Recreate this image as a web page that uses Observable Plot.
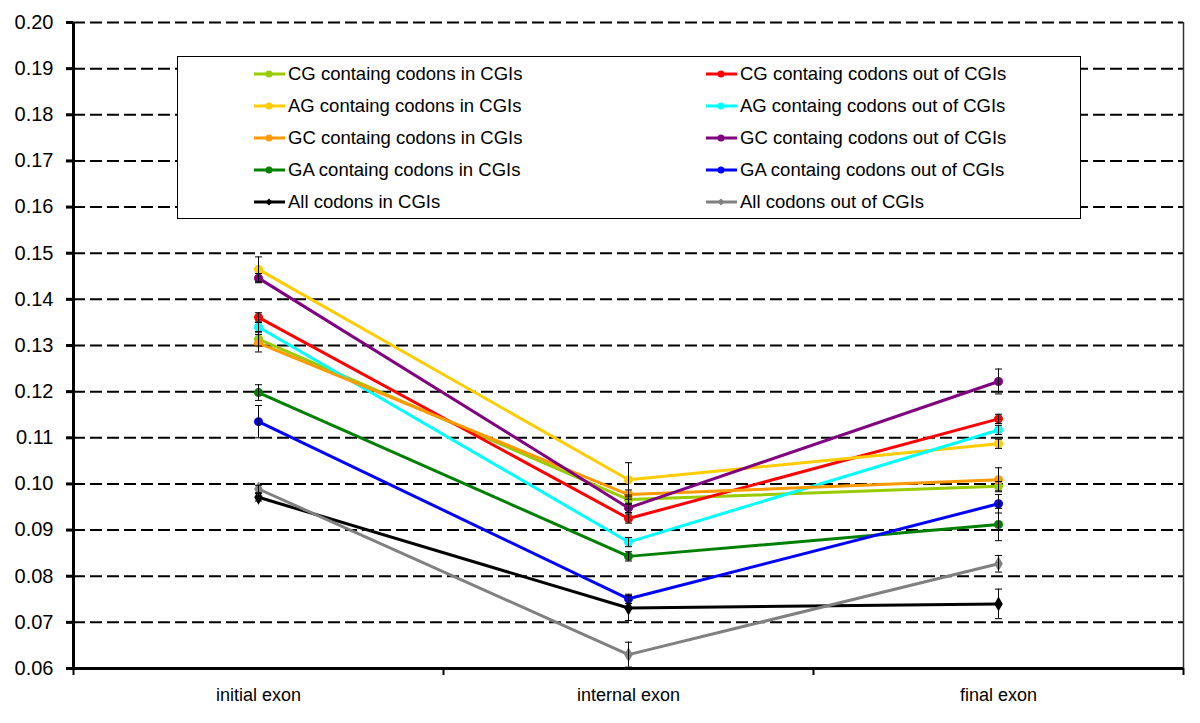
<!DOCTYPE html>
<html>
<head>
<meta charset="utf-8">
<script src="https://cdn.jsdelivr.net/npm/d3@7"></script>
<script src="https://cdn.jsdelivr.net/npm/@observablehq/plot@0.6"></script>
<style>
  html, body { margin: 0; padding: 0; background: #fff; }
  #wrap { position: relative; width: 1200px; height: 723px; font-family: "Liberation Sans", Arial, sans-serif; }
  #legend { position: absolute; left: 177px; top: 56px; width: 904px; height: 163px; border: 1px solid #000; background: #fff; box-sizing: border-box; }
  .item { position: absolute; height: 24px; line-height: 24px; font-size: 18.5px; color: #000; white-space: nowrap; display: flex; align-items: center; }
  .item svg { margin-right: 3px; }
</style>
</head>
<body>
<div id="wrap"><div id="chart"></div><div id="legend"></div></div>
<script>
const categories = ["initial exon", "internal exon", "final exon"];
const yTicks = [0.06, 0.07, 0.08, 0.09, 0.10, 0.11, 0.12, 0.13, 0.14, 0.15, 0.16, 0.17, 0.18, 0.19, 0.20];

const seriesNames = [
  "CG containg codons in CGIs", "CG containg codons out of CGIs",
  "AG containg codons in CGIs", "AG containg codons out of CGIs",
  "GC containg codons in CGIs", "GC containg codons out of CGIs",
  "GA containg codons in CGIs", "GA containg codons out of CGIs",
  "All codons in CGIs", "All codons out of CGIs"
];
const seriesColors = ["#99cc00", "#ff0000", "#ffcc00", "#00ffff", "#ff9900", "#800080", "#008000", "#0000ff", "#000000", "#808080"];
const seriesSymbols = ["circle", "circle", "circle", "circle", "circle", "circle", "circle", "circle", "diamond", "diamond"];

const cgIn  = [0.1314, 0.0966, 0.0995];
const cgOut = [0.1361, 0.0925, 0.1141];
const agIn  = [0.1465, 0.1009, 0.1087];
const agOut = [0.1340, 0.0874, 0.1117];
const gcIn  = [0.1305, 0.0977, 0.1009];
const gcOut = [0.1446, 0.0948, 0.1222];
const gaIn  = [0.1198, 0.0843, 0.0912];
const gaOut = [0.1135, 0.0751, 0.0957];
const allIn  = [0.0971, 0.0731, 0.0740];
const allOut = [0.0989, 0.0630, 0.0827];

const cgInErr  = [0.0015, 0.0010, 0.0010];
const cgOutErr = [0.0010, 0.0010, 0.0010];
const agInErr  = [0.0027, 0.0037, 0.0010];
const agOutErr = [0.0010, 0.0010, 0.0010];
const gcInErr  = [0.0019, 0.0010, 0.0026];
const gcOutErr = [0.0010, 0.0010, 0.0027];
const gaInErr  = [0.0017, 0.0010, 0.0035];
const gaOutErr = [0.0035, 0.0010, 0.0020];
const allInErr  = [0.0008, 0.0027, 0.0032];
const allOutErr = [0.0008, 0.0027, 0.0018];

const seriesValues = [cgIn, cgOut, agIn, agOut, gcIn, gcOut, gaIn, gaOut, allIn, allOut];
const seriesErrors = [cgInErr, cgOutErr, agInErr, agOutErr, gcInErr, gcOutErr, gaInErr, gaOutErr, allInErr, allOutErr];

const rows = [];
seriesNames.forEach((name, s) => {
  categories.forEach((c, i) => {
    rows.push({series: name, s, xi: i + 0.5, y: seriesValues[s][i], err: seriesErrors[s][i]});
  });
});

const capSymbol = { draw(ctx, size) { const r = Math.sqrt(size) / 2; ctx.moveTo(-r, 0); ctx.lineTo(r, 0); } };

const marks = [
  Plot.ruleY(yTicks.filter(d => d > 0.06), {stroke: "#000", strokeWidth: 2, strokeDasharray: "12,5"}),
  Plot.ruleX([categories.length], {stroke: "#333", strokeWidth: 1.5}),
  Plot.axisY(yTicks, {label: null, tickFormat: d => d.toFixed(2), fontSize: 20, tickSize: 7, tickPadding: 13, strokeWidth: 3, fill: "#000"}),
  Plot.axisX(d3.range(categories.length + 1), {label: null, tickFormat: () => "", tickSize: 7, strokeWidth: 2}),
  Plot.axisX(categories.map((c, i) => i + 0.5), {label: null, tickFormat: d => categories[Math.floor(d)], tickSize: 0, tickPadding: 20, fontSize: 18, fill: "#000"}),
];

seriesNames.forEach((name, s) => {
  const data = rows.filter(r => r.s === s);
  marks.push(Plot.line(data, {x: "xi", y: "y", stroke: seriesColors[s], strokeWidth: 3}));
  marks.push(Plot.dot(data, {x: "xi", y: "y", fill: seriesColors[s], stroke: "none", r: 4.5, symbol: seriesSymbols[s]}));
});

marks.push(Plot.ruleX(rows, {x: "xi", y1: d => d.y - d.err, y2: d => d.y + d.err, stroke: "#000", strokeWidth: 1}));
marks.push(Plot.dot(rows, {x: "xi", y: d => d.y + d.err, symbol: capSymbol, r: 4, stroke: "#000", strokeWidth: 1, fill: "none"}));
marks.push(Plot.dot(rows, {x: "xi", y: d => d.y - d.err, symbol: capSymbol, r: 4, stroke: "#000", strokeWidth: 1, fill: "none"}));

marks.push(Plot.ruleY([0.06], {stroke: "#000", strokeWidth: 3}));
marks.push(Plot.ruleX([0], {stroke: "#000", strokeWidth: 3}));

const chart = Plot.plot({
  width: 1200,
  height: 723,
  marginLeft: 73,
  marginRight: 17,
  marginTop: 22,
  marginBottom: 55,
  style: {fontFamily: "'Liberation Sans', Arial, sans-serif", background: "#fff", color: "#000"},
  x: {domain: [0, categories.length], label: null},
  y: {domain: [0.06, 0.20], label: null},
  marks
});
document.getElementById("chart").appendChild(chart);

// Legend (two columns, row-major order like the original)
const legend = document.getElementById("legend");
const rowCenters = [17, 49, 81, 113, 145];
const colX = [76, 528];
seriesNames.forEach((name, s) => {
  const col = s % 2, row = Math.floor(s / 2);
  const div = document.createElement("div");
  div.className = "item";
  div.style.left = colX[col] + "px";
  div.style.top = (rowCenters[row] - 12) + "px";
  const marker = seriesSymbols[s] === "diamond"
    ? `<path d="M15,2.5 L18.5,6 L15,9.5 L11.5,6 Z" fill="${seriesColors[s]}"/>`
    : `<circle cx="15" cy="6" r="3.5" fill="${seriesColors[s]}"/>`;
  div.innerHTML = `<svg width="31" height="12"><line x1="0" x2="31" y1="6" y2="6" stroke="${seriesColors[s]}" stroke-width="3"/>${marker}</svg><span>${name}</span>`;
  legend.appendChild(div);
});
</script>
</body>
</html>
